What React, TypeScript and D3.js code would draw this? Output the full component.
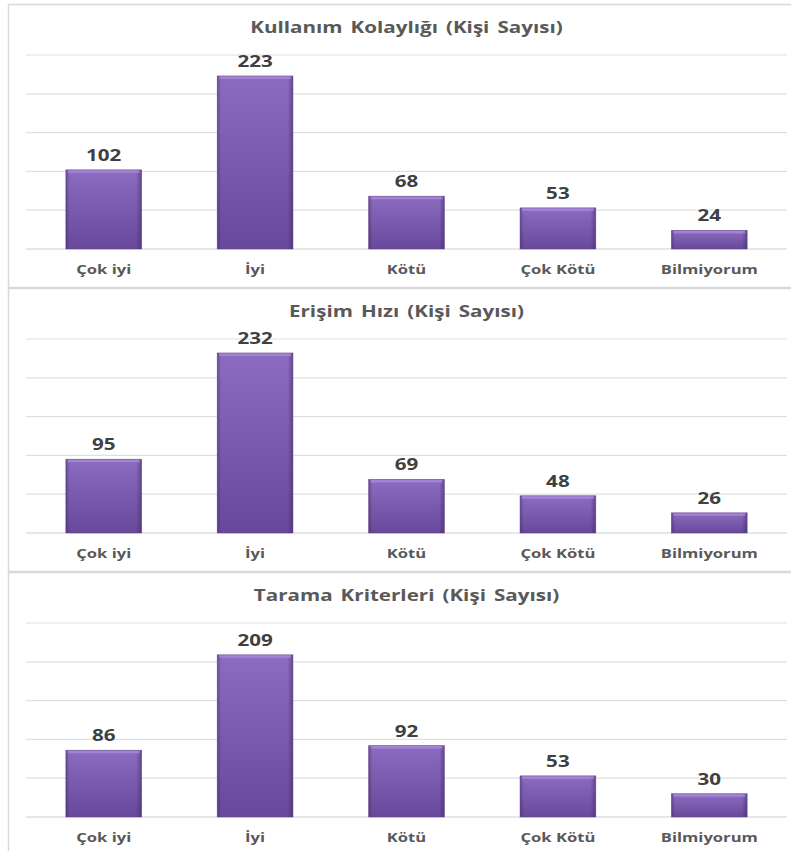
import React from 'react';
import * as d3 from 'd3';

const categories = ['Çok iyi', 'İyi', 'Kötü', 'Çok Kötü', 'Bilmiyorum'];

const titles = [
    'Kullanım Kolaylığı (Kişi Sayısı)',
    'Erişim Hızı (Kişi Sayısı)',
    'Tarama Kriterleri (Kişi Sayısı)',
];

const kullanimValues = [102, 223, 68, 53, 24];
const erisimValues = [95, 232, 69, 48, 26];
const taramaValues = [86, 209, 92, 53, 30];

const yTicks = [0, 50, 100, 150, 200, 250];

const WIDTH = 791,
    HEIGHT = 851;

const PANEL_H = 284;
const PANEL_TOP = 4;

const MARGIN = {
    LEFT: 28,
    RIGHT: 6,
    TOP: 51,    // top gridline inside panel
    BASE: 245   // baseline inside panel
};

// the source picture is stretched sideways, so the text is too
const STRETCH = 1.33;

const FONT = '"Open Sans", "Noto Sans", sans-serif';

interface PanelProps {
    title: string;
    values: number[];
    top: number;
    idx: number;
}

const Label = (p: { x: number, y: number, size: number, fill: string, children: React.ReactNode, dy?: string, ws?: string }) => (
    <text transform={`translate(${p.x}, ${p.y}) scale(${STRETCH}, 1)`} dy={p.dy} textAnchor='middle'
        fontFamily={FONT} fontWeight={700} fontSize={p.size} fill={p.fill} style={p.ws ? { wordSpacing: p.ws } : undefined}>
        {p.children}
    </text>
);

const Panel = (props: PanelProps) => {
    const { title, values, top, idx } = props;

    const x = d3.scaleBand<string>()
        .domain(categories)
        .range([MARGIN.LEFT, WIDTH - MARGIN.RIGHT])
        .paddingInner(0.5)
        .paddingOuter(0.25);

    const y = d3.scaleLinear()
        .domain([0, 250])
        .range([MARGIN.BASE, MARGIN.TOP]);

    const bw = x.bandwidth();

    return (
        <g transform={`translate(0, ${top})`}>
            <rect x={8.5} y={0.5} width={WIDTH} height={PANEL_H - 1} fill='#ffffff' stroke='#d9d9d9' strokeWidth={1.5} />
            <Label x={(MARGIN.LEFT + WIDTH - MARGIN.RIGHT) / 2} y={24} dy='0.35em' size={15.5} fill='#595959' ws='2px'>
                {title}
            </Label>
            <g>
                {yTicks.map(t => (
                    <line key={t} x1={MARGIN.LEFT - 2} x2={WIDTH - 4} y1={y(t)} y2={y(t)}
                        stroke={t === 0 ? '#d0d0d0' : '#e0e0e0'} strokeWidth={1.2} />
                ))}
            </g>
            <g>
                {values.map((v, i) => {
                    const c = categories[i];
                    const bx = x(c) as number;
                    const by = y(v);
                    const bh = y(0) - by;
                    return (
                        <g key={c}>
                            <rect x={bx} y={by} width={bw} height={bh} fill={`url(#barV${idx})`} />
                            <rect x={bx} y={by} width={bw} height={bh} fill={`url(#barH${idx})`} />
                            <rect x={bx + 2} y={by} width={bw - 4} height={3} fill='#a98ad8' opacity={0.8} />
                            <rect x={bx} y={by} width={bw} height={bh} fill='none' stroke='#5a3f80' strokeWidth={0.8} strokeOpacity={0.6} />
                            <Label x={bx + bw / 2} y={by - 9} size={15.5} fill='#404040'>
                                {v}
                            </Label>
                            <Label x={bx + bw / 2} y={MARGIN.BASE + 21} dy='0.35em' size={12.5} fill='#595959'>
                                {c}
                            </Label>
                        </g>
                    );
                })}
            </g>
        </g>
    );
};

export default function App() {
    const allValues = [kullanimValues, erisimValues, taramaValues];
    return (
        <svg width={WIDTH} height={HEIGHT} style={{ position: 'absolute', left: 0, top: 0, background: '#ffffff' }}>
            <defs>
                {[0, 1, 2].map(i => (
                    <React.Fragment key={i}>
                        <linearGradient id={`barV${i}`} x1='0' y1='0' x2='0' y2='1'>
                            <stop offset='0%' stopColor='#8c6cc0' />
                            <stop offset='100%' stopColor='#68489a' />
                        </linearGradient>
                        <linearGradient id={`barH${i}`} x1='0' y1='0' x2='1' y2='0'>
                            <stop offset='0%' stopColor='#3c2560' stopOpacity={0.45} />
                            <stop offset='5%' stopColor='#3c2560' stopOpacity={0} />
                            <stop offset='93%' stopColor='#3c2560' stopOpacity={0} />
                            <stop offset='100%' stopColor='#3c2560' stopOpacity={0.5} />
                        </linearGradient>
                    </React.Fragment>
                ))}
            </defs>
            {titles.map((t, i) => (
                <Panel key={t} title={t} values={allValues[i]} top={PANEL_TOP + i * PANEL_H} idx={i} />
            ))}
        </svg>
    );
}
